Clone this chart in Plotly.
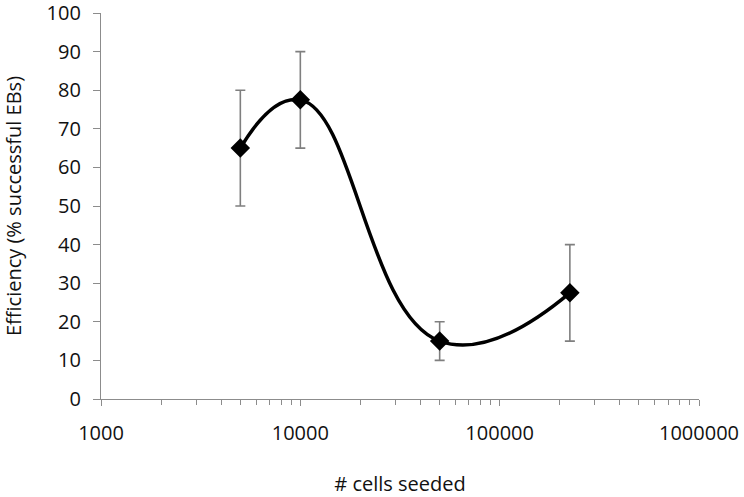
import plotly.graph_objects as go

# Data
cells_seeded = [5000, 10000, 50000, 225000]
efficiency = [65, 77.5, 15, 27.5]
err_plus = [15, 12.5, 5, 12.5]
err_minus = [15, 12.5, 5, 12.5]

x_ticks = [1000, 10000, 100000, 1000000]
x_ticktext = ['1000', '10000', '100000', '1000000']
y_ticks = list(range(0, 101, 10))

axis_color = '#8c8c8c'
text_color = '#111111'
font_family = 'Open Sans'

# minor log ticks 2..9 in each decade
minor_ticks = [m * 10 ** d for d in range(3, 6) for m in range(2, 10)]

fig = go.Figure()

# error bars first so the curve draws on top
fig.add_trace(go.Scatter(
    x=cells_seeded, y=efficiency, mode='markers', showlegend=False,
    marker=dict(size=1, color='rgba(0,0,0,0)'),
    error_y=dict(type='data', array=err_plus, arrayminus=err_minus,
                 color='#7f7f7f', thickness=1.6, width=5),
    hoverinfo='skip'
))

fig.add_trace(go.Scatter(
    x=cells_seeded, y=efficiency, mode='lines+markers', showlegend=False,
    line=dict(color='black', width=3.5, shape='spline', smoothing=1.3),
    marker=dict(symbol='diamond', size=15, color='black')
))

fig.update_layout(
    width=744, height=497,
    plot_bgcolor='white', paper_bgcolor='white',
    margin=dict(l=101, r=45, t=13, b=98),
    font=dict(family=font_family, size=20, color=text_color),
    xaxis=dict(
        type='log', range=[3, 6], automargin=False,
        tickvals=x_ticks, ticktext=x_ticktext,
        showgrid=False, zeroline=False,
        showline=True, linecolor=axis_color, linewidth=1.3,
        ticks='outside', ticklen=6, tickcolor=axis_color,
        ticklabelstandoff=10, ticklabeloverflow='allow',
        minor=dict(tickvals=minor_ticks, ticks='outside', ticklen=5, tickcolor=axis_color, showgrid=False),
        tickfont=dict(size=20),
        title=dict(text='# cells seeded', font=dict(size=20), standoff=32),
    ),
    yaxis=dict(
        range=[0, 100], tickvals=y_ticks, automargin=False,
        showgrid=False, zeroline=False,
        showline=True, linecolor=axis_color, linewidth=1.3,
        ticks='outside', ticklen=7, tickcolor=axis_color,
        ticklabelstandoff=8, ticklabeloverflow='allow',
        tickfont=dict(size=20),
        title=dict(text='Efficiency (% successful EBs)', font=dict(size=20), standoff=33),
    ),
)

# drop the default page margin so the figure sits at the window's corner
fig.write_html('out.html', config={'displayModeBar': False},
               post_script="document.body.style.margin='0';")
